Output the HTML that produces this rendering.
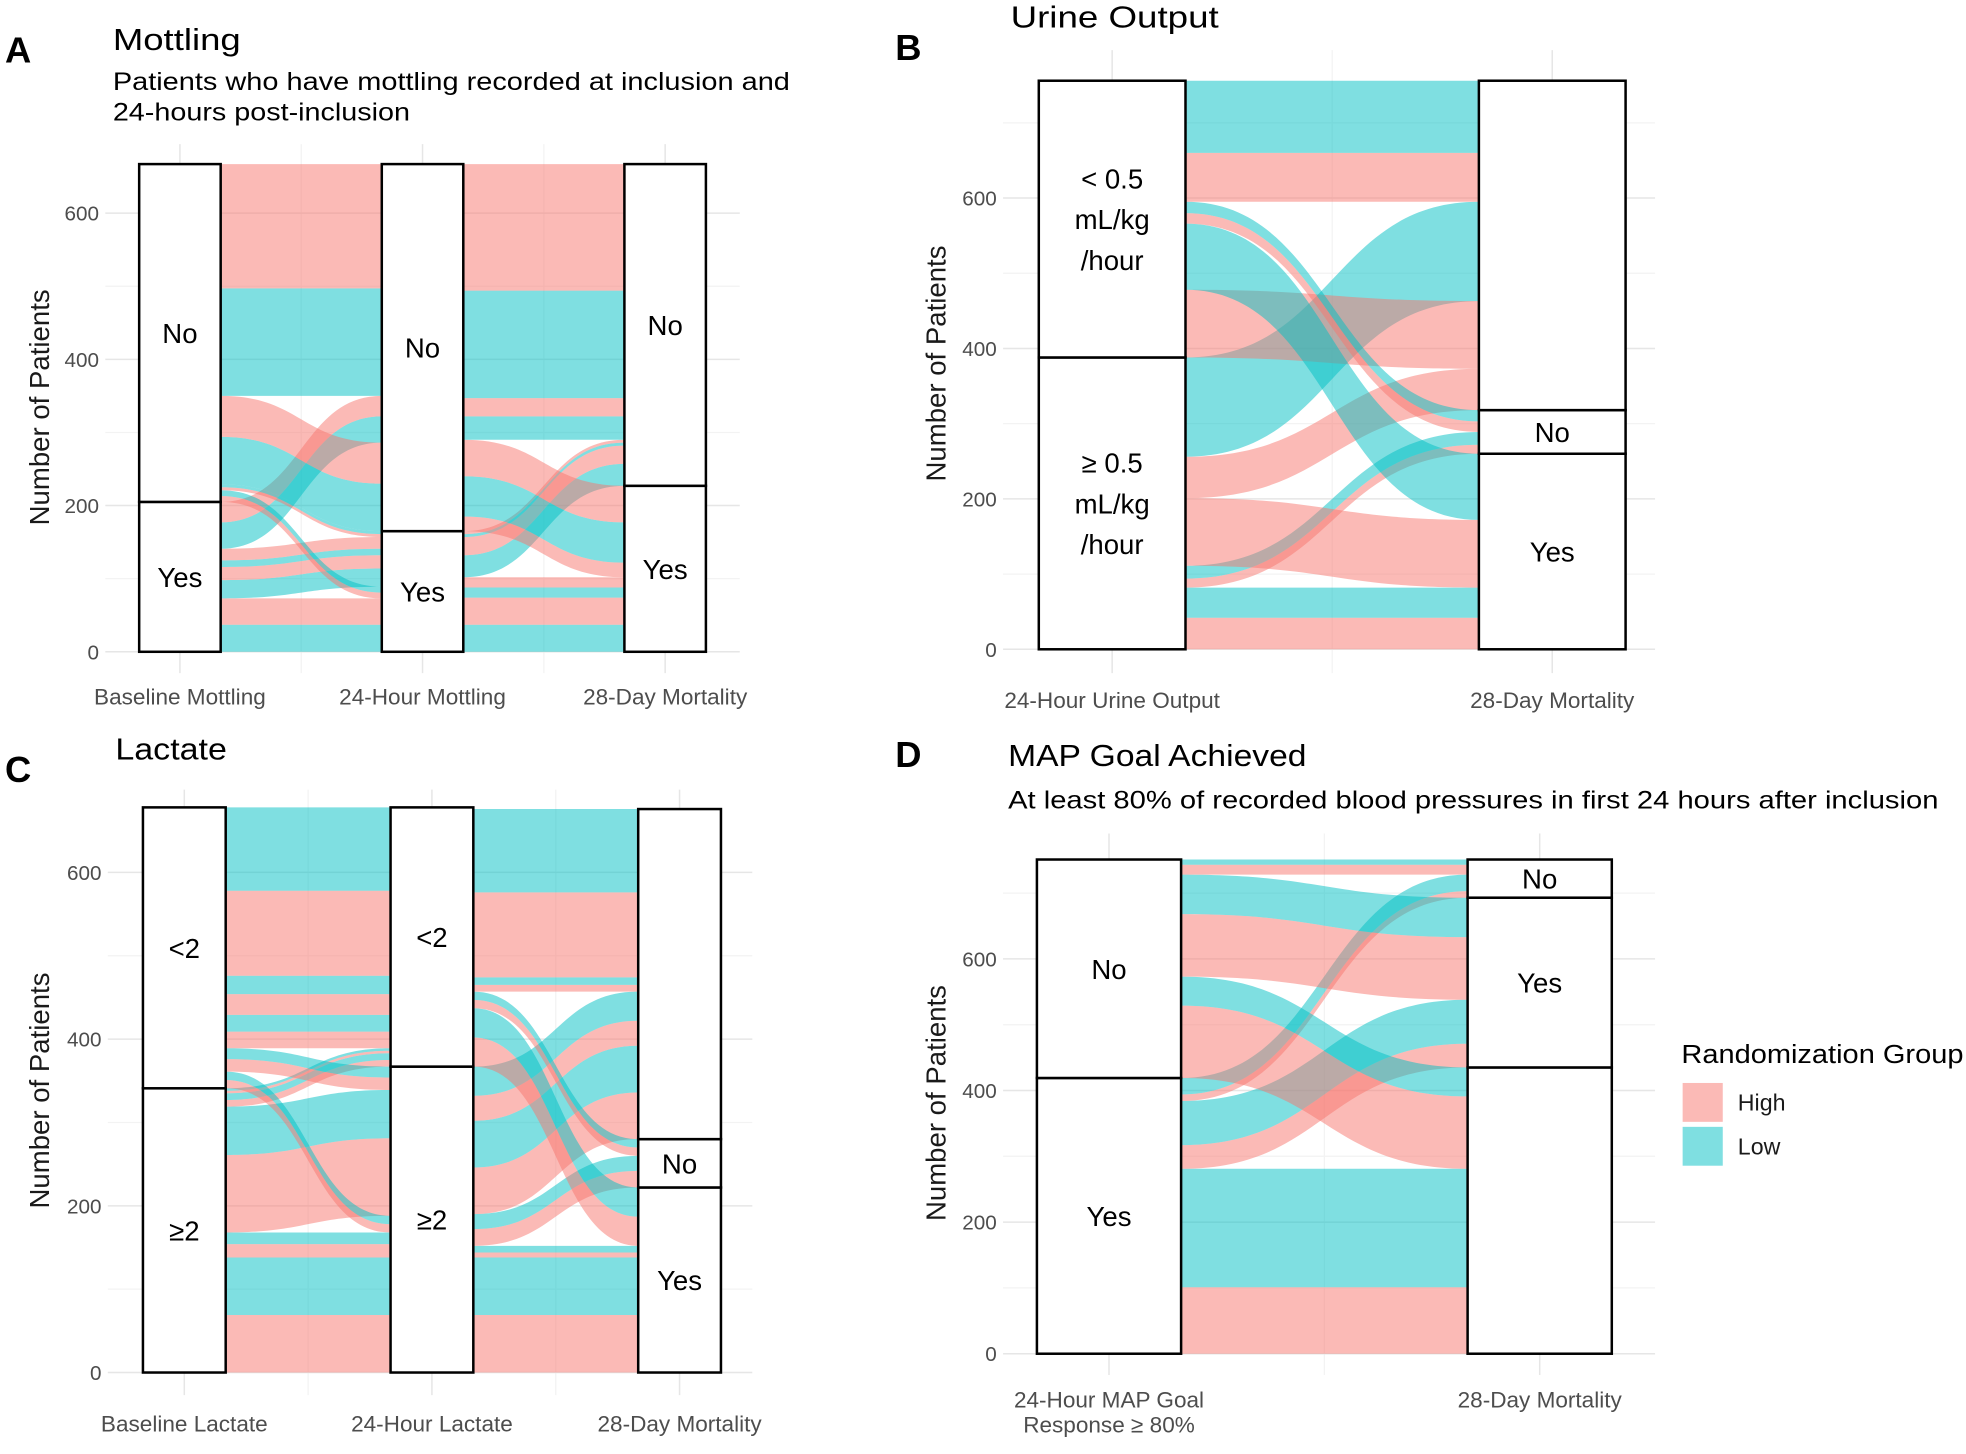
<!DOCTYPE html>
<html><head><meta charset="utf-8">
<style>
html,body{margin:0;padding:0;background:#fff;}
svg{display:block;}
text{font-family:"Liberation Sans","DejaVu Sans",sans-serif;}
</style></head>
<body>
<svg id="fig" xmlns="http://www.w3.org/2000/svg" width="1966" height="1454" viewBox="0 0 1568 1160" preserveAspectRatio="none">
<g id="layer"></g>
<g font-weight="bold" font-size="29" fill="#000">
<text x="4" y="50">A</text>
<text x="714" y="48">B</text>
<text x="4" y="624">C</text>
<text x="714" y="612">D</text>
</g>
<g fill="#000">
<text x="90" y="40" font-size="24" textLength="102" lengthAdjust="spacingAndGlyphs">Mottling</text>
<text x="90" y="72" font-size="20" textLength="540" lengthAdjust="spacingAndGlyphs">Patients who have mottling recorded at inclusion and</text>
<text x="90" y="96" font-size="20" textLength="237" lengthAdjust="spacingAndGlyphs">24-hours post-inclusion</text>
<text x="806" y="22" font-size="24" textLength="166" lengthAdjust="spacingAndGlyphs">Urine Output</text>
<text x="92" y="606" font-size="24" textLength="89" lengthAdjust="spacingAndGlyphs">Lactate</text>
<text x="804" y="611" font-size="24" textLength="238" lengthAdjust="spacingAndGlyphs">MAP Goal Achieved</text>
<text x="804" y="645" font-size="20" textLength="742" lengthAdjust="spacingAndGlyphs">At least 80% of recorded blood pressures in first 24 hours after inclusion</text>
</g>
<g>
<text x="1341" y="848" font-size="21" fill="#000" textLength="225" lengthAdjust="spacingAndGlyphs">Randomization Group</text>
<rect x="1342" y="864" width="32" height="31" fill="#F8766D" fill-opacity="0.5"/>
<rect x="1342" y="899" width="32" height="31" fill="#00BFC4" fill-opacity="0.5"/>
<text x="1386" y="886" font-size="18.5" fill="#1a1a1a">High</text>
<text x="1386" y="921" font-size="18.5" fill="#1a1a1a">Low</text>
</g>
</svg>
<script>
// ---------- Panel A: Mottling ----------
const aAxisLabels = ["Baseline Mottling", "24-Hour Mottling", "28-Day Mortality"];
const aStrataLabels = [["Yes", "No"], ["Yes", "No"], ["Yes", "No"]];
const aTicks = [0, 200, 400, 600];
const aS1From = [0,0,0,0,0,0,0,0, 1,1,1,1,1,1,1,1];
const aS1To   = [0,0,0,0,0,0,1,1, 0,0,0,0,1,1,1,1];
const aS1Grp  = ["Low","High","Low","High","Low","High","Low","High","High","Low","High","Low","Low","High","Low","High"];
const aS1Val  = [37,36,25,18,9,16,36,28, 8,8,4,4,65,56,147,170];
const aS1Order = [0,1,8,9,2,3,4,5,10,11, 12,13,6,7,14,15];
const aS2From = [0,0,0,0,0,0,0,0, 1,1,1,1,1,1,1];
const aS2To   = [0,0,0,0,1,1,1,1, 0,0,0,1,1,1,1];
const aS2Grp  = ["Low","High","Low","High","Low","High","Low","High","High","Low","High","Low","High","Low","High"];
const aS2Val  = [37,37,14,14,30,25,4,4, 20,55,50,32,25,147,173];
const aS2Order = [0,1,2,3,8,9,10, 4,5,6,7,11,12,13,14];

// ---------- Panel B: Urine Output ----------
const bAxisLabels = ["24-Hour Urine Output", "28-Day Mortality"];
const bStrataLabels = [["≥ 0.5\nmL/kg\n/hour", "< 0.5\nmL/kg\n/hour"], ["Yes", "No", ""]];
const bTicks = [0, 200, 400, 600];
const bS1From = [0,0,0,0,0,0,0, 1,1,1,1,1,1];
const bS1To   = [0,0,1,1,0,2,2, 2,0,1,1,2,2];
const bS1Grp  = ["High","Low","High","Low","High","High","Low","High","Low","High","Low","High","Low"];
const bS1Val  = [42,40,12,17,90,55,132, 90,88,14,15,65,96];
const bS1Order = [0,1,4,8, 2,3,9,10, 5,7,6,11,12];

// ---------- Panel C: Lactate ----------
const cAxisLabels = ["Baseline Lactate", "24-Hour Lactate", "28-Day Mortality"];
const cStrataLabels = [["≥2", "<2"], ["≥2", "<2"], ["Yes", "No", ""]];
const cTicks = [0, 200, 400, 600];
const cS1From = [0,0,0,0,0,0,0,0,0,0, 1,1,1,1,1,1,1,1,1,1];
const cS1To   = [0,0,0,0,0,0,1,1,1,1, 0,0,0,0,1,1,1,1,1,1];
const cS1Grp  = ["High","Low","High","Low","High","Low","High","Low","High","Low","High","Low","High","Low","High","Low","High","Low","High","Low"];
const cS1Val  = [69,69,16,14,93,58,8,8,3,3, 10,10,15,13,20,20,25,22,102,100];
const cS1Order = [0,1,2,3,10,11,4,5,12,13, 6,7,8,9,14,15,16,17,18,19];
const cS2From = [0,0,0,0,0,0,0,0,0,0, 1,1,1,1,1,1,1,1];
const cS2To   = [0,0,0,0,1,1,2,2,2,2, 0,0,1,1,2,2,2,2];
const cS2Grp  = ["High","Low","High","Low","High","Low","High","Low","High","Low","High","Low","High","Low","High","Low","High","Low"];
const cS2Val  = [69,69,6,8,20,18,56,56,30,35, 35,35,10,10,8,9,102,100];
const cS2Order = [0,1,2,3,10,11, 4,5,12,13, 6,7,8,9,14,15,16,17];

// ---------- Panel D: MAP Goal ----------
const dAxisLabels = ["24-Hour MAP Goal\nResponse ≥ 80%", "28-Day Mortality"];
const dStrataLabels = [["Yes", "No"], ["", "Yes", "No"]];
const dTicks = [0, 200, 400, 600];
const dS1From = [0,0,0,0,0,0, 1,1,1,1,1,1];
const dS1To   = [0,0,1,1,2,2, 0,0,1,1,2,2];
const dS1Grp  = ["High","Low","High","Low","High","Low","High","Low","High","Low","High","Low"];
const dS1Val  = [101,180,36,67,10,25, 110,44,95,60,15,8];
const dS1Order = [0,1,6,7, 2,3,8,9, 4,5,10,11];

const COLORS = {High: "#F8766D", Low: "#00BFC4"};
const NS = "http://www.w3.org/2000/svg";
const layer = document.getElementById("layer");

function mk(tag, attrs, parent) {
  const e = document.createElementNS(NS, tag);
  for (const k in attrs) e.setAttribute(k, attrs[k]);
  (parent || layer).appendChild(e);
  return e;
}

function drawPanel(P) {
  const g = mk("g", {});
  
  
  const yS = v => P.y0 - v * P.k;
  const xS = i => P.x0 + i * P.dx;
  const grid = mk("g", {}, g);
  
  
  const maxV = (P.y0 - P.top) / P.k;
  for (let v = 100; v <= maxV; v += 200) {
    const l = mk("line", {x1: P.left, x2: P.right, y1: yS(v), y2: yS(v), stroke: "#f3f3f3", "stroke-width": 1}, grid);
    
    
  }
  for (let i = 0; i < P.axisLabels.length - 1; i++) {
    const xm = (xS(i) + xS(i + 1)) / 2;
    const l = mk("line", {x1: xm, x2: xm, y1: P.top, y2: P.bottom, stroke: "#f3f3f3", "stroke-width": 1}, grid);
    
    
  }
  P.ticks.forEach(t => {
    const l = mk("line", {x1: P.left, x2: P.right, y1: yS(t), y2: yS(t), stroke: "#e6e6e6", "stroke-width": 1.2}, grid);
    
    
    const tx = mk("text", {x: P.tickX, y: yS(t) + 6, "text-anchor": "end", "font-size": 16.5, fill: "#4d4d4d"}, g);
    tx.textContent = t;
    
    
  });
  P.axisLabels.forEach((lab, i) => {
    const l = mk("line", {x1: xS(i), x2: xS(i), y1: P.top, y2: P.bottom, stroke: "#e6e6e6", "stroke-width": 1.2}, grid);
    
    
    lab.split("\n").forEach((ln, j) => {
      const t = mk("text", {x: xS(i), y: P.xLabY + j * 20, "text-anchor": "middle", "font-size": 18, fill: "#4d4d4d"}, g);
      t.textContent = ln;
      
      
    });
  });
  const yt = mk("text", {x: 0, y: 0, "text-anchor": "middle", "font-size": 22, fill: "#1a1a1a",
    transform: `translate(${P.yTitleX},${P.yTitleY}) rotate(-90)`}, g);
  yt.textContent = "Number of Patients";
  
  

  const nAx = P.axisLabels.length;
  const totals = [];
  for (let a = 0; a < nAx; a++) totals.push(new Array(P.strata[a].length).fill(0));
  P.segs.forEach((s, si) => {
    s.val.forEach((v, f) => {
      if (si === 0) totals[0][s.from[f]] += v;
      totals[si + 1][s.to[f]] += v;
    });
  });
  const bases = totals.map(arr => { let c = 0; return arr.map(v => { const b = c; c += v; return b; }); });

  const fl = mk("g", {}, g);
  
  
  P.segs.forEach((s, si) => {
    const n = s.val.length;
    const lb = new Array(n), rb = new Array(n);
    const lcur = bases[si].slice();
    for (let st = 0; st < P.strata[si].length; st++) {
      for (let f = 0; f < n; f++) if (s.from[f] === st) { lb[f] = lcur[st]; lcur[st] += s.val[f]; }
    }
    const rcur = bases[si + 1].slice();
    s.order.forEach(f => { rb[f] = rcur[s.to[f]]; rcur[s.to[f]] += s.val[f]; });
    const x1 = xS(si) + P.hw, x2 = xS(si + 1) - P.hw, xm = (x1 + x2) / 2;
    for (let f = 0; f < n; f++) {
      const a0 = yS(lb[f]), a1 = yS(lb[f] + s.val[f]);
      const b0 = yS(rb[f]), b1 = yS(rb[f] + s.val[f]);
      const d = `M${x1},${a0} C${xm},${a0} ${xm},${b0} ${x2},${b0} L${x2},${b1} C${xm},${b1} ${xm},${a1} ${x1},${a1} Z`;
      const p = mk("path", {d: d, fill: COLORS[s.grp[f]], "fill-opacity": 0.5}, fl);
      
      
    }
  });

  for (let a = 0; a < nAx; a++) {
    totals[a].forEach((v, st) => {
      const r = mk("rect", {x: xS(a) - P.hw, y: yS(bases[a][st] + v), width: 2 * P.hw, height: v * P.k,
        fill: "#fff", stroke: "#000", "stroke-width": 2}, g);
      
      
      const lab = P.strata[a][st];
      if (lab) {
        const lines = lab.split("\n");
        const cy = yS(bases[a][st] + v / 2);
        lines.forEach((ln, j) => {
          const t = mk("text", {x: xS(a), y: cy + 8 + (j - (lines.length - 1) / 2) * 32.5, "text-anchor": "middle", "font-size": 22, fill: "#000"}, g);
          t.textContent = ln;
          
          
        });
      }
    });
  }
}

drawPanel({name: "panel-a-mottling", axisLabels: aAxisLabels, strata: aStrataLabels, ticks: aTicks,
  segs: [{from: aS1From, to: aS1To, grp: aS1Grp, val: aS1Val, order: aS1Order},
         {from: aS2From, to: aS2To, grp: aS2Grp, val: aS2Val, order: aS2Order}],
  x0: 143.5, dx: 193.5, hw: 32.5, y0: 520, k: 350 / 600, top: 115, bottom: 537, left: 84, right: 590,
  tickX: 79, xLabY: 562, yTitleX: 39, yTitleY: 325});

drawPanel({name: "panel-b-urine-output", axisLabels: bAxisLabels, strata: bStrataLabels, ticks: bTicks,
  segs: [{from: bS1From, to: bS1To, grp: bS1Grp, val: bS1Val, order: bS1Order}],
  x0: 887, dx: 351, hw: 58.5, y0: 518, k: 360 / 600, top: 40, bottom: 537, left: 800, right: 1320,
  tickX: 795, xLabY: 565, yTitleX: 754, yTitleY: 290});

drawPanel({name: "panel-c-lactate", axisLabels: cAxisLabels, strata: cStrataLabels, ticks: cTicks,
  segs: [{from: cS1From, to: cS1To, grp: cS1Grp, val: cS1Val, order: cS1Order},
         {from: cS2From, to: cS2To, grp: cS2Grp, val: cS2Val, order: cS2Order}],
  x0: 147, dx: 197.5, hw: 33, y0: 1095, k: 399 / 600, top: 630, bottom: 1113, left: 86, right: 600,
  tickX: 81, xLabY: 1142, yTitleX: 39, yTitleY: 870});

drawPanel({name: "panel-d-map-goal", axisLabels: dAxisLabels, strata: dStrataLabels, ticks: dTicks,
  segs: [{from: dS1From, to: dS1To, grp: dS1Grp, val: dS1Val, order: dS1Order}],
  x0: 884.5, dx: 343.5, hw: 57.5, y0: 1080, k: 315 / 600, top: 665, bottom: 1097, left: 800, right: 1320,
  tickX: 795, xLabY: 1123, yTitleX: 754, yTitleY: 880});
</script>
</body></html>
